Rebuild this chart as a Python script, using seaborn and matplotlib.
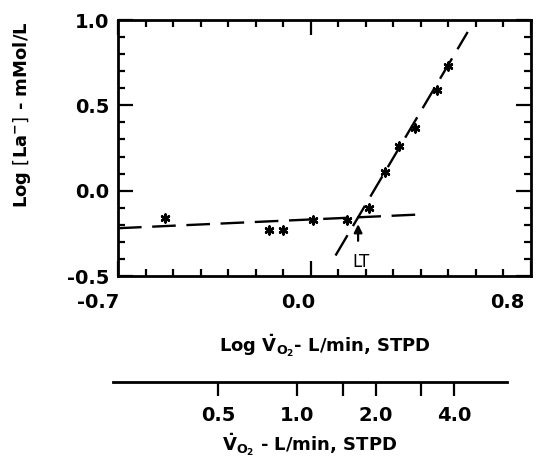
import matplotlib
matplotlib.use("Agg")
import matplotlib.pyplot as plt
import matplotlib.transforms as mtransforms
import seaborn as sns
import pandas as pd
from matplotlib.ticker import MultipleLocator, FixedLocator, FixedFormatter, NullFormatter

# ---- data ----
log_vo2 = [-0.53, -0.15, -0.10, 0.01, 0.13, 0.21, 0.27, 0.32, 0.38, 0.46, 0.50]
log_la = [-0.16, -0.23, -0.23, -0.17, -0.17, -0.10, 0.11, 0.26, 0.37, 0.59, 0.73]

flat_fit_x = [-0.70, 0.39]
flat_fit_y = [-0.22, -0.14]
steep_fit_x = [0.09, 0.57]
steep_fit_y = [-0.38, 0.93]

x_ticks = [-0.7, 0.0, 0.8]
x_tick_labels = ["-0.7", "0.0", "0.8"]
y_ticks = [-0.5, 0.0, 0.5, 1.0]
y_tick_labels = ["-0.5", "0.0", "0.5", "1.0"]

vo2_major = [0.5, 1.0, 2.0, 4.0]
vo2_major_labels = ["0.5", "1.0", "2.0", "4.0"]
vo2_minor = [1.5, 3.0]

lt_x = 0.172
lt_arrow_y = [-0.31, -0.18]
lt_label_y = -0.42

sns.set_style("ticks")
plt.rcParams["font.family"] = ["DejaVu Sans"]
plt.rcParams["mathtext.fontset"] = "dejavusans"
plt.rcParams["text.color"] = "black"
plt.rcParams["axes.labelcolor"] = "black"
plt.rcParams["xtick.color"] = "black"
plt.rcParams["ytick.color"] = "black"

fig = plt.figure(figsize=(5.5, 4.71), dpi=100)
ax = fig.add_axes([0.2145, 0.414, 0.751, 0.5435])

pts = pd.DataFrame({"x": log_vo2, "y": log_la})
lw = 1.7
dash = (10, 4.5)
sns.lineplot(x=flat_fit_x, y=flat_fit_y, ax=ax, color="black", lw=lw,
             dashes=False, estimator=None, sort=False)
sns.lineplot(x=steep_fit_x, y=steep_fit_y, ax=ax, color="black", lw=lw,
             dashes=False, estimator=None, sort=False)
for ln in ax.lines:
    ln.set_dashes(dash)
sns.scatterplot(data=pts, x="x", y="y", ax=ax, marker=(6, 2, 0), s=32,
                color="black", linewidth=1.8, edgecolor="black", zorder=5)

ax.annotate("", xy=(lt_x, lt_arrow_y[1]), xytext=(lt_x, lt_arrow_y[0]),
            arrowprops=dict(arrowstyle="-|>", color="black", lw=1.6,
                            mutation_scale=12))
ax.text(lt_x + 0.012, lt_label_y, "LT", ha="center", va="center", fontsize=12,
        color="black")

ax.set_xlim(-0.7, 0.8)
ax.set_ylim(-0.5, 1.0)
ax.xaxis.set_major_locator(FixedLocator(x_ticks))
ax.xaxis.set_major_formatter(FixedFormatter(x_tick_labels))
ax.yaxis.set_major_locator(FixedLocator(y_ticks))
ax.yaxis.set_major_formatter(FixedFormatter(y_tick_labels))
ax.xaxis.set_minor_locator(MultipleLocator(0.1))
ax.yaxis.set_minor_locator(MultipleLocator(0.1))

for s in ax.spines.values():
    s.set_visible(True)
    s.set_linewidth(2.0)
    s.set_color("black")

ax.tick_params(which="both", direction="in", top=True, right=True,
               width=1.6, color="black", labelsize=14, labelcolor="black")
ax.tick_params(which="major", length=11)
ax.tick_params(which="minor", length=5)
ax.tick_params(axis="x", which="major", pad=12)
ax.tick_params(axis="y", which="major", pad=6)
for lab in ax.get_xticklabels() + ax.get_yticklabels():
    lab.set_fontweight("bold")

# the reference prints the x tick labels a little left of their ticks
x_label_shift = [-20, -13, -24]
fig.canvas.draw()
for lab, dx in zip(ax.get_xticklabels(), x_label_shift):
    lab.set_transform(lab.get_transform() +
                      mtransforms.ScaledTranslation(dx / 100, 0, fig.dpi_scale_trans))

ax.set_xlabel(r"Log $\mathbf{\dot{V}_{O_2}}$- L/min, STPD",
              fontsize=13, fontweight="bold", labelpad=15, color="black")
ax.set_ylabel(r"Log $\mathbf{\left[La^{-}\right]}$ - mMol/L", fontsize=13,
              fontweight="bold", color="black")
ax.yaxis.set_label_coords(-0.205, 0.63)

# secondary (absolute VO2) scale drawn below
ax2 = fig.add_axes([0.2055, 0.189, 0.7164, 0.0001])
ax2.set_xscale("log")
ax2.set_xlim(10 ** -0.705, 10 ** 0.805)
ax2.set_yticks([])
for k in ["top", "left", "right"]:
    ax2.spines[k].set_visible(False)
ax2.spines["bottom"].set_linewidth(2.0)
ax2.spines["bottom"].set_color("black")
ax2.xaxis.set_major_locator(FixedLocator(vo2_major))
ax2.xaxis.set_major_formatter(FixedFormatter(vo2_major_labels))
ax2.xaxis.set_minor_locator(FixedLocator(vo2_minor))
ax2.xaxis.set_minor_formatter(NullFormatter())
ax2.tick_params(which="both", direction="out", length=10, width=1.6,
                labelsize=14, pad=7, color="black", labelcolor="black")
for lab in ax2.get_xticklabels():
    lab.set_fontweight("bold")
ax2.set_xlabel(r"$\mathbf{\dot{V}_{O_2}}$ - L/min, STPD",
               fontsize=13, fontweight="bold", labelpad=5, color="black")

fig.savefig("out.png", dpi=100)
